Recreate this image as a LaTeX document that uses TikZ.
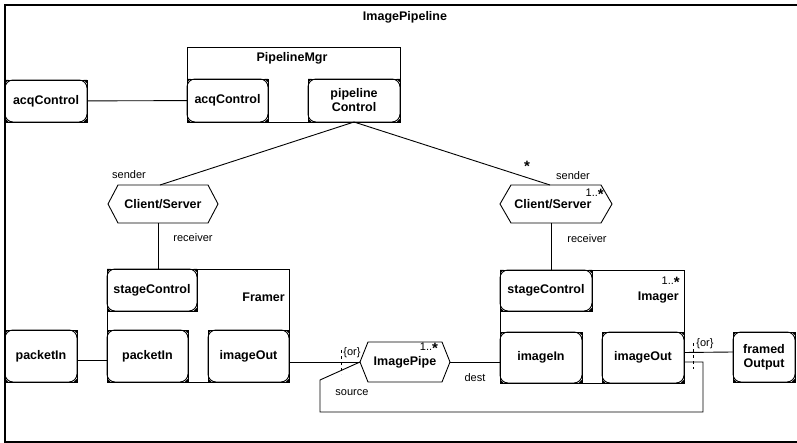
\documentclass[tikz,border=0pt]{standalone}
\usepackage{fontspec}
\setmainfont{Liberation Sans}
\tikzset{
  ln/.style={line width=0.9pt},
  pportn/.style={draw, line width=0.9pt, rounded corners=8pt, inner sep=0pt, outer sep=0pt,
    font=\bfseries\fontsize{12.5}{14}\selectfont, align=center},
  boxn/.style={draw, line width=0.9pt, inner sep=0pt, outer sep=0pt},
  lbl/.style={font=\fontsize{11}{12}\selectfont, inner sep=0pt},
  blbl/.style={font=\bfseries\fontsize{12.5}{13}\selectfont, inner sep=0pt},
  tick/.style={line width=0.7pt, dash pattern=on 3pt off 3pt},
}
\newcommand\bstar{\raisebox{-2.5pt}{\bfseries\fontsize{15}{15}\selectfont *}}
\newcommand\pport[6]{%
  \node[pportn, minimum width={(#4-#2)*1pt}, minimum height={(#5-#3)*1pt}] (#1) at ({(#2+#4)/2},{(#3+#5)/2}) {#6};
  \draw[line width=0.9pt] (#1.north west) rectangle (#1.south east);
  \fill (#1.north west) -- ++(3.5,0) -- ++(-3.5,3.5) -- cycle;
  \fill (#1.north east) -- ++(-3.5,0) -- ++(3.5,3.5) -- cycle;
  \fill (#1.south west) -- ++(3.5,0) -- ++(-3.5,-3.5) -- cycle;
  \fill (#1.south east) -- ++(-3.5,0) -- ++(3.5,-3.5) -- cycle;
}
\newcommand\hexa[7]{%
  \node[inner sep=0pt, outer sep=0pt, minimum width={(#4-#2)*1pt}, minimum height={(#5-#3)*1pt},
    font=\bfseries\fontsize{12.5}{13}\selectfont] (#1) at ({(#2+#4)/2},{(#3+#5)/2}) {#7};
  \draw[ln] (#1.west) -- ([xshift=#6pt]#1.north west) -- ([xshift=-#6pt]#1.north east) -- (#1.east)
    -- ([xshift=-#6pt]#1.south east) -- ([xshift=#6pt]#1.south west) -- cycle;
}
\begin{document}
\begin{tikzpicture}[x=1pt,y=-1pt]
\useasboundingbox (0,0) rectangle (797,443);
% outer frame
\draw[line width=1.2pt] (800,5) -- (5,5) -- (5,442) -- (800,442);
\node[blbl] (title) at (405,17) {ImagePipeline};

% PipelineMgr
\node[boxn, minimum width=213pt, minimum height=75pt] (pm) at (293.5,85) {};
\node[blbl] (pmt) at (292,58) {PipelineMgr};
\pport{a1}{187}{79}{268}{122}{acqControl}
\pport{pc}{308}{79}{400}{122}{pipeline\\Control}
\pport{a0}{5}{80}{87}{122}{acqControl}
\draw[ln] (a0) -- (a1);

% Client/Server hexagons
\hexa{cs1}{108}{185}{218}{223}{10}{Client/Server}
\hexa{cs2}{500}{185}{612}{223}{11}{\raisebox{-4pt}{Client/Server}\hspace*{6pt}}
\draw[ln] (pc.south) -- ([xshift=-3pt]cs1.north);
\draw[ln] (pc.south) -- ([xshift=-6pt]cs2.north);
\node[lbl] (snd1) at (129,175) {sender};
\node[lbl] (snd2) at (573,176) {sender};
\node[lbl] (st1) at (527,166) {\bstar};
\node[lbl, anchor=east] (m1) at (604,194) {1..\bstar};

% Framer
\node[boxn, minimum width=182pt, minimum height=113pt] (fr) at (198,325.5) {};
\node[blbl, anchor=east] (frt) at (285,297) {Framer};
\pport{sc1}{107}{269}{197}{311}{stageControl}
\pport{p1}{107}{330}{188}{382}{packetIn}
\pport{fo}{208}{330}{289}{382}{imageOut}
\pport{p0}{5}{330}{77}{382}{packetIn}
\draw[ln] ([yshift=-4pt]p0.east) -- ([yshift=-4pt]p1.west);
\coordinate (r1) at ([xshift=-5pt]cs1.south);
\draw[ln] (r1) -- (r1 |- fr.north);
\node[lbl] (rc1) at (193,238) {receiver};

% Imager
\node[boxn, minimum width=184pt, minimum height=113pt] (im) at (592,326.5) {};
\node[lbl, anchor=east] (m3) at (680,282) {1..\bstar};
\node[blbl, anchor=east] (imt) at (679,298) {Imager};
\pport{sc2}{500}{270}{592}{311}{stageControl}
\pport{ii}{500}{332}{582}{383}{imageIn}
\pport{io}{602}{332}{684}{383}{imageOut}
\pport{fd}{733}{332}{795}{382}{framed\\Output}
\coordinate (r2) at ([xshift=-5pt]cs2.south);
\draw[ln] (r2) -- (r2 |- im.north);
\node[lbl] (rc2) at (587,239) {receiver};

% ImagePipe
\hexa{ip}{360}{342}{450}{382}{8}{\raisebox{-3pt}{ImagePipe}}
\node[lbl] (m2) at (429,348) {1..\bstar};
\draw[ln] (fo.east |- ip.west) -- (ip.west);
\draw[ln] (ip.east) -- (ii.west |- ip.east);
\node[lbl] (dst) at (475,378) {dest};
\coordinate (s1) at (320,380);
\coordinate (s2) at (320,412);
\coordinate (s3) at (703,412);
\coordinate (s4) at (703,362);
\draw[ln] (ip.west) -- (s1) -- (s2) -- (s3) -- (s4) -- (s4 -| io.east);
\node[lbl] (src) at (352,393) {source};
\draw[ln] ([yshift=5pt]io.east) -- ([yshift=5pt]fd.west);

% {or} constraints
\draw[tick] (341,350) -- (341,374);
\node[lbl] (or1) at (352,353) {\{or\}};
\draw[tick] (693,343) -- (693,369);
\node[lbl] (or2) at (705,344) {\{or\}};
\end{tikzpicture}
\end{document}
